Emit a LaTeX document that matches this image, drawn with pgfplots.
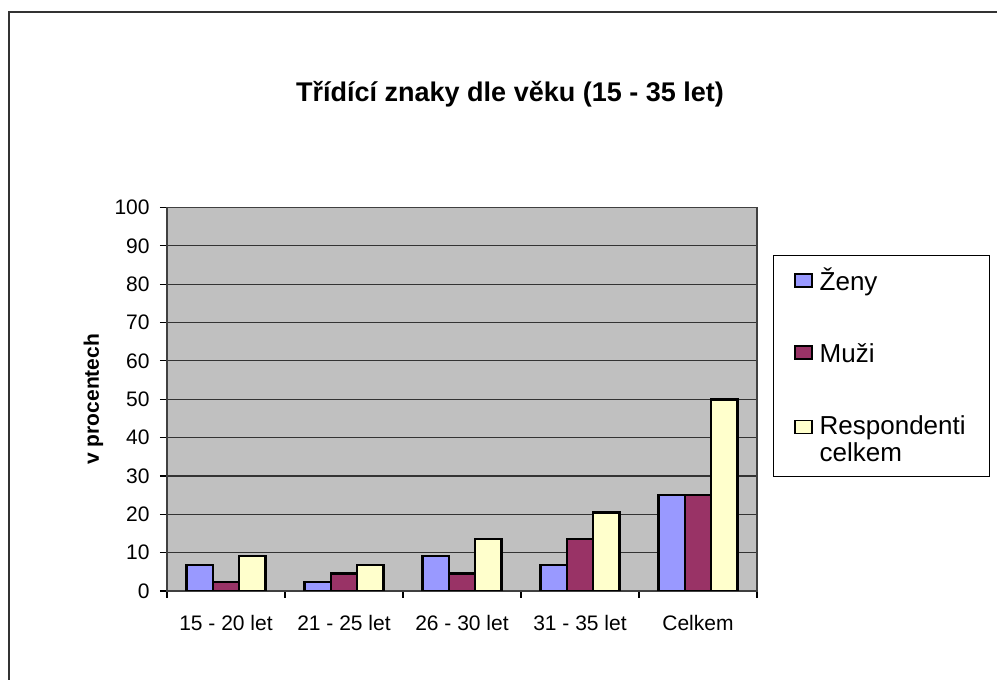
\documentclass[border=0pt]{standalone}
\usepackage{fontspec}
\setmainfont{Liberation Sans}
\usepackage{pgfplots}
\pgfplotsset{compat=1.18}
\definecolor{zeny}{HTML}{9999FF}
\definecolor{muzi}{HTML}{993366}
\definecolor{celk}{HTML}{FFFFCC}
\definecolor{plotbg}{HTML}{C0C0C0}

\newcommand{\lstrut}{\rule[-3pt]{0pt}{14pt}}
% legend key for the two-line entry, raised to its first line
\pgfplotsset{raised key/.style={legend image code/.code={%
    \draw[##1,/tikz/.cd, line width=0.8pt] (0pt,2.5pt) rectangle (8.5pt,9pt);
    \path (0pt,-9pt);}}}

\begin{document}
\begin{tikzpicture}
\useasboundingbox (-83.5pt,-44.5pt) rectangle (415pt,295.5pt);
% outer chart frame (cut off at right and bottom)
\draw[black!80, line width=1pt] (-79pt,-50pt) -- (-79pt,289.5pt) -- (420pt,289.5pt);
\begin{axis}[
    at={(0,0)}, anchor=south west,
    scale only axis,
    width=295pt, height=191.75pt,
    ybar=0pt,
    bar width=13.15pt,
    xmin=-0.5, xmax=4.5,
    ymin=0, ymax=100,
    xtick={0,1,2,3,4},
    xticklabels={15 - 20 let,21 - 25 let,26 - 30 let,31 - 35 let,Celkem},
    minor xtick={-0.5,0.5,1.5,2.5,3.5,4.5},
    ytick={0,10,...,100},
    xtick pos=bottom, ytick pos=left,
    tick align=outside,
    major tick length=3.5pt,
    minor tick length=3.5pt,
    major x tick style={draw=none},
    tick style={black, line width=0.6pt},
    axis line style={black!75, line width=0.6pt},
    axis background/.style={fill=plotbg},
    ymajorgrids=true,
    grid style={black!80, line width=0.6pt},
    tick label style={font=\fontsize{10.5}{12}\selectfont, /pgf/number format/assume math mode=true},
    xticklabel style={anchor=north, inner sep=0pt, yshift=-8.5pt},
    yticklabel style={anchor=east, inner sep=0pt, xshift=-5pt},
    ylabel={v procentech},
    ylabel style={font=\fontsize{10.5}{12}\selectfont\bfseries, at={(axis description cs:-0.1246,0.5)}, anchor=center},
    title={Třídící znaky dle věku (15 - 35 let)},
    title style={font=\fontsize{13.5}{15}\selectfont\bfseries, at={(axis description cs:0.5814,1.2464)}, anchor=base},
    legend style={
        at={(axis description cs:1.0271,0.8761)}, anchor=north west,
        draw=black, line width=0.6pt, fill=white,
        font=\fontsize{13}{13.5}\selectfont,
        cells={align=left},
        inner xsep=10pt, inner ysep=4.2pt,
        row sep=19.4pt,
    },
    legend cell align=left,
    legend image code/.code={\draw[#1,/tikz/.cd, line width=0.8pt] (0pt,-3pt) rectangle (8.5pt,3.5pt);},
    every axis plot/.append style={draw=black, line width=1.3pt},
]
\addplot[fill=zeny] coordinates {(0,6.8) (1,2.3) (2,9.1) (3,6.8) (4,25)};
\addlegendentry{\hspace{1.5pt}\lstrut Ženy}
\addplot[fill=muzi] coordinates {(0,2.3) (1,4.5) (2,4.5) (3,13.6) (4,25)};
\addlegendentry{\hspace{1.5pt}\lstrut Muži}
\addplot[fill=celk, raised key] coordinates {(0,9.1) (1,6.8) (2,13.6) (3,20.5) (4,50)};
\addlegendentry{\hspace{1.5pt}\rule{0pt}{11pt}Respondenti\\\hspace{1.5pt}celkem\rule[-3pt]{0pt}{3pt}}
\end{axis}
\end{tikzpicture}
\end{document}
